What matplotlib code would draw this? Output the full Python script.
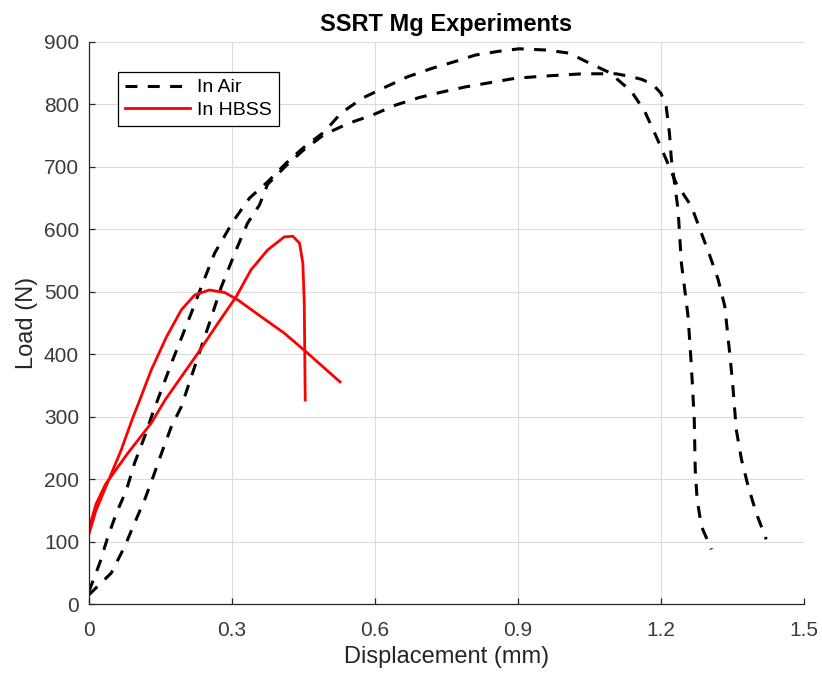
import numpy as np
import matplotlib
matplotlib.use("Agg")
import matplotlib.pyplot as plt

plt.rcParams['font.family'] = ['Liberation Sans', 'DejaVu Sans']

# ---- data (displacement mm, load N) ----
# In Air, specimen 1 (higher peak)
air1_x = [0.0, 0.023, 0.04, 0.058, 0.079, 0.096, 0.117, 0.135, 0.176, 0.215, 0.236,
          0.264, 0.302, 0.337, 0.375, 0.414, 0.449, 0.494, 0.529, 0.574, 0.623, 0.668,
          0.721, 0.77, 0.811, 0.86, 0.903, 0.959, 1.008, 1.05, 1.092, 1.138, 1.166,
          1.19, 1.211, 1.232, 1.264, 1.303, 1.32, 1.334, 1.345, 1.351, 1.358, 1.369,
          1.383, 1.40, 1.421]
air1_y = [20, 66, 108, 146, 183, 226, 268, 308, 391, 466, 508,
          562, 612, 650, 676, 706, 730, 756, 786, 810, 828, 844,
          858, 869, 879, 885, 889, 887, 882, 866, 851, 821, 789,
          749, 712, 674, 637, 557, 520, 477, 397, 349, 280, 232,
          189, 146, 104]

# In Air, specimen 2 (plateau)
air2_x = [0.0, 0.02, 0.047, 0.075, 0.096, 0.117, 0.135, 0.155, 0.173, 0.194, 0.229,
          0.253, 0.278, 0.309, 0.333, 0.358, 0.375, 0.414, 0.449, 0.494, 0.546, 0.595,
          0.644, 0.693, 0.742, 0.79, 0.896, 0.97, 1.036, 1.106, 1.134, 1.16, 1.183,
          1.2, 1.211, 1.218, 1.222, 1.236, 1.243, 1.25, 1.257, 1.264, 1.27, 1.272,
          1.276, 1.285, 1.306]
air2_y = [15, 30, 50, 92, 130, 167, 204, 247, 284, 316, 396,
          450, 508, 567, 610, 639, 672, 702, 726, 752, 770, 783,
          799, 811, 820, 828, 842, 846, 849, 849, 845, 840, 832,
          818, 797, 754, 712, 632, 546, 504, 461, 381, 296, 216,
          168, 125, 88]

# In HBSS, specimen 1
hbss1_x = [0.0, 0.015, 0.033, 0.068, 0.093, 0.107, 0.131, 0.163, 0.194, 0.222,
           0.253, 0.285, 0.313, 0.362, 0.41, 0.456, 0.515, 0.527]
hbss1_y = [112, 150, 183, 247, 300, 327, 375, 428, 471, 495,
           503, 499, 487, 460, 434, 404, 364, 356]

# In HBSS, specimen 2
hbss2_x = [0.0, 0.015, 0.035, 0.082, 0.131, 0.16, 0.194, 0.229, 0.271, 0.309,
           0.34, 0.375, 0.41, 0.428, 0.442, 0.449, 0.452, 0.453, 0.454]
hbss2_y = [120, 160, 192, 242, 290, 327, 364, 402, 450, 492,
           535, 567, 588, 589, 578, 546, 482, 402, 327]

xticks = [0, 0.3, 0.6, 0.9, 1.2, 1.5]
xticklabels = ['0', '0.3', '0.6', '0.9', '1.2', '1.5']
yticks = list(range(0, 901, 100))

# ---- plot ----
fig = plt.figure(figsize=(8.22, 6.76), dpi=100)
ax = fig.add_axes([0.108, 0.106, 0.870, 0.832])

dash = (0, (3.9, 3.4))
ax.plot(air1_x, air1_y, color='black', lw=2.2, linestyle=dash, label='In Air')
ax.plot(air2_x, air2_y, color='black', lw=2.2, linestyle=dash)
ax.plot(hbss1_x, hbss1_y, color='red', lw=2.0, label='In HBSS')
ax.plot(hbss2_x, hbss2_y, color='red', lw=2.0)

ax.set_xlim(0, 1.5)
ax.set_ylim(0, 900)
ax.set_xticks(xticks)
ax.set_xticklabels(xticklabels)
ax.set_yticks(yticks)
ax.grid(True, color='#dcdcdc', lw=0.8)
ax.set_axisbelow(True)

for s in ['top', 'right']:
    ax.spines[s].set_visible(False)
for s in ['left', 'bottom']:
    ax.spines[s].set_color('#262626')
    ax.spines[s].set_linewidth(0.9)
ax.tick_params(direction='in', length=4, width=0.9, colors='#262626',
               labelsize=15)
ax.tick_params(axis='y', labelcolor='#3a3a3a', pad=7)
ax.tick_params(axis='x', labelcolor='#3a3a3a', pad=12)

ax.set_xlabel('Displacement (mm)', fontsize=17, color='#262626', labelpad=4)
ax.set_ylabel('Load (N)', fontsize=17, color='#262626', labelpad=4)
ax.set_title('SSRT Mg Experiments', fontsize=17, fontweight='bold', pad=8)

leg = ax.legend(loc='upper left', bbox_to_anchor=(0.041, 0.9465), borderaxespad=0,
                fancybox=False, framealpha=1, edgecolor='black', fontsize=14,
                handlelength=3.35, handletextpad=0.36, borderpad=0.35,
                labelspacing=0.25)
leg.get_frame().set_linewidth(0.9)

fig.savefig('out.png', dpi=100)
